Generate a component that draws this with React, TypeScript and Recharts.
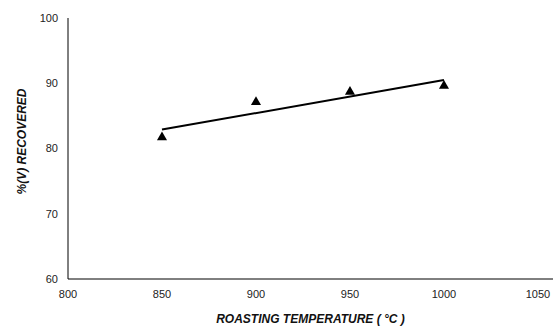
import React from "react";
import {
  ComposedChart,
  Line,
  Scatter,
  XAxis,
  YAxis,
  ZAxis,
  Label,
} from "recharts";

// roasting temperature (°C) and measured vanadium recovery (%)
const temperatures = [850, 900, 950, 1000];
const recovered = [81.7, 87.1, 88.7, 89.6];
// linear trend line, drawn between its end points
const trendAt = [850, 1000];
const trendValues = [82.9, 90.5];

const xTicks = [800, 850, 900, 950, 1000, 1050];
const yTicks = [60, 70, 80, 90, 100];

const data = temperatures.map((t, i) => {
  const k = trendAt.indexOf(t);
  return {
    temp: t,
    recovered: recovered[i],
    trend: k >= 0 ? trendValues[k] : null,
  };
});

const tickStyle = { fontFamily: "Liberation Sans, Arial, sans-serif", fontSize: 11, fill: "#222" };
const titleStyle = {
  fontFamily: "Liberation Sans, Arial, sans-serif",
  fontSize: 12,
  fontWeight: "bold" as const,
  fontStyle: "italic",
  fill: "#111",
};

const App: React.FC = () => {
  return (
    <div style={{ position: "fixed", left: 0, top: 0, background: "#fff" }}>
      <ComposedChart
        width={559}
        height={327}
        data={data}
        margin={{ top: 18, right: 6, bottom: 0, left: 8 }}
      >
        <XAxis
          dataKey="temp"
          type="number"
          domain={[800, 1058]}
          ticks={xTicks}
          tickLine={false}
          tickSize={6}
          tickMargin={5}
          height={48}
          stroke="#000"
          tick={tickStyle}
        >
          <Label
            value="ROASTING TEMPERATURE ( °C )"
            position="insideBottom"
            offset={4}
            style={titleStyle}
          />
        </XAxis>
        <YAxis
          type="number"
          domain={[60, 100]}
          ticks={yTicks}
          tickLine={false}
          tickSize={6}
          tickMargin={4}
          width={60}
          stroke="#000"
          tick={tickStyle}
        >
          <Label
            value="%(V) RECOVERED"
            angle={-90}
            position="insideLeft"
            offset={14}
            dy={-7}
            style={{ ...titleStyle, textAnchor: "middle" }}
          />
        </YAxis>
        <ZAxis range={[44, 44]} />
        <Line
          dataKey="trend"
          stroke="#000"
          strokeWidth={2}
          dot={false}
          connectNulls
          isAnimationActive={false}
        />
        <Scatter
          dataKey="recovered"
          fill="#000"
          shape="triangle"
          isAnimationActive={false}
        />
      </ComposedChart>
    </div>
  );
};

export default App;
